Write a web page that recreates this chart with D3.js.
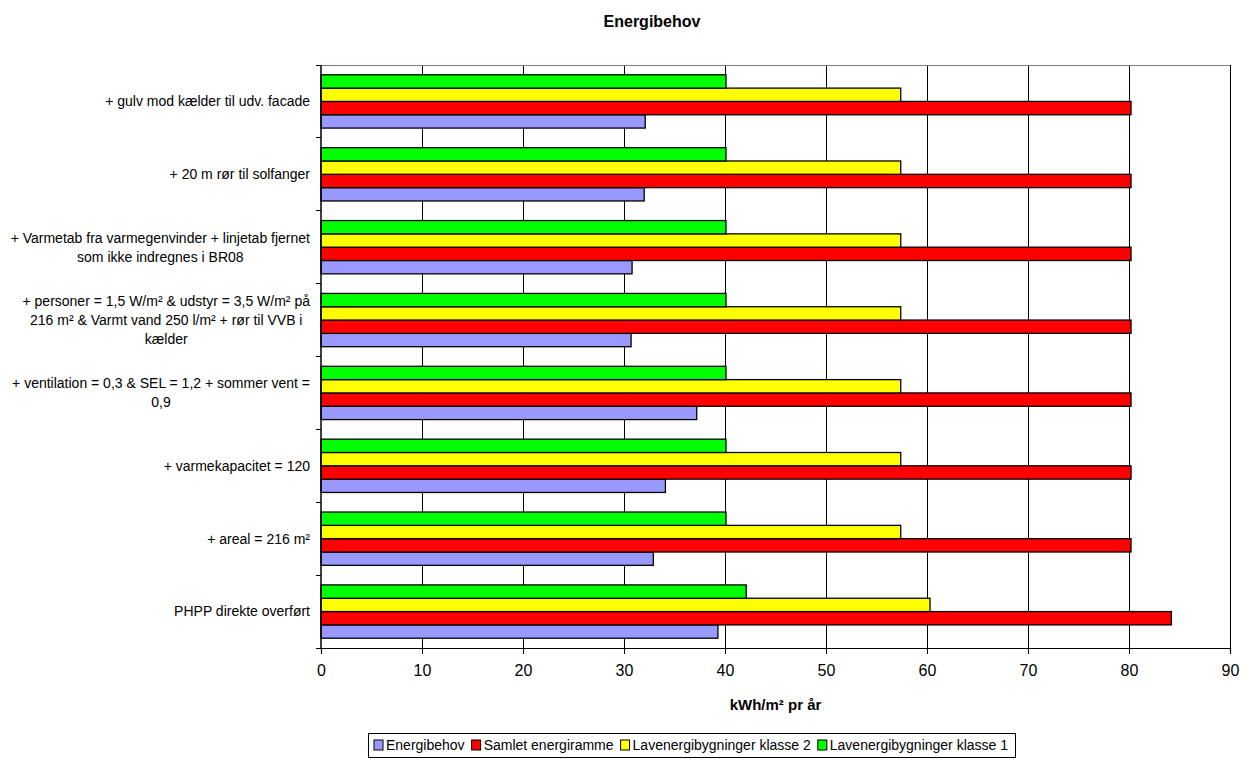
<!DOCTYPE html>
<html>
<head>
<meta charset="utf-8">
<script src="https://cdn.jsdelivr.net/npm/d3@7"></script>
<style>
  html, body { margin: 0; padding: 0; background: #fff; }
  svg { display: block; font-family: "Liberation Sans", Arial, sans-serif; }
</style>
</head>
<body>
<svg id="chart" width="1256" height="760"></svg>
<script>
// Categories, bottom to top (first category sits at the bottom of the axis)
const categories = [
  ["PHPP direkte overført"],
  ["+ areal = 216 m²"],
  ["+ varmekapacitet = 120"],
  ["+ ventilation = 0,3 & SEL = 1,2 + sommer vent =", "0,9"],
  ["+ personer = 1,5 W/m² & udstyr = 3,5 W/m² på", "216 m² & Varmt vand 250 l/m² + rør til VVB i", "kælder"],
  ["+ Varmetab fra varmegenvinder + linjetab fjernet", "som ikke indregnes i BR08"],
  ["+ 20 m rør til solfanger"],
  ["+ gulv mod kælder til udv. facade"]
];

const seriesNames = ["Energibehov", "Samlet energiramme", "Lavenergibygninger klasse 2", "Lavenergibygninger klasse 1"];
const seriesColors = ["#9999FF", "#FF0000", "#FFFF00", "#00FF00"];

const energibehov       = [39.3, 32.9, 34.1, 37.2, 30.7, 30.8, 32.0, 32.1];
const samletEnergiramme = [84.2, 80.2, 80.2, 80.2, 80.2, 80.2, 80.2, 80.2];
const lavenergiKlasse2  = [60.3, 57.4, 57.4, 57.4, 57.4, 57.4, 57.4, 57.4];
const lavenergiKlasse1  = [42.1, 40.1, 40.1, 40.1, 40.1, 40.1, 40.1, 40.1];

const seriesValues = [energibehov, samletEnergiramme, lavenergiKlasse2, lavenergiKlasse1];

const xTicks = [0, 10, 20, 30, 40, 50, 60, 70, 80, 90];

const titleText = "Energibehov";
const xTitleText = "kWh/m² pr år";

// Layout
const plot = { left: 321, right: 1230, top: 65, bottom: 648 };
const svg = d3.select("#chart");

const x = d3.scaleLinear().domain([0, 90]).range([plot.left, plot.right]);
const catIdx = d3.range(categories.length);
// reversed so the first category is at the bottom
const y = d3.scaleBand().domain(catIdx.slice().reverse()).range([plot.top, plot.bottom]).padding(0);
// within a category: series drawn top-to-bottom in reverse order
const ySeries = d3.scaleBand()
  .domain([3, 2, 1, 0])
  .range([0, y.bandwidth()])
  .paddingInner(0)
  .paddingOuter(0.735);

// Gridlines
svg.append("g")
  .selectAll("line")
  .data(xTicks.filter(d => d > 0))
  .join("line")
  .attr("x1", d => x(d)).attr("x2", d => x(d))
  .attr("y1", plot.top).attr("y2", plot.bottom)
  .attr("stroke", "#000").attr("stroke-width", 1)
  .attr("shape-rendering", "crispEdges");

// Plot area top border
svg.append("line")
  .attr("x1", plot.left).attr("x2", plot.right)
  .attr("y1", plot.top).attr("y2", plot.top)
  .attr("stroke", "#808080").attr("stroke-width", 1)
  .attr("shape-rendering", "crispEdges");

// Bars
const rows = [];
catIdx.forEach(ci => {
  seriesValues.forEach((vals, si) => rows.push({ ci, si, v: vals[ci] }));
});
svg.append("g")
  .selectAll("rect")
  .data(rows)
  .join("rect")
  .attr("x", x(0))
  .attr("y", d => y(d.ci) + ySeries(d.si))
  .attr("width", d => x(d.v) - x(0))
  .attr("height", ySeries.bandwidth())
  .attr("fill", d => seriesColors[d.si])
  .attr("stroke", "#000")
  .attr("stroke-width", 1.3);

// X axis
const xAxis = svg.append("g")
  .attr("transform", `translate(0,${plot.bottom})`)
  .call(d3.axisBottom(x).tickValues(xTicks).tickSize(6).tickPadding(11).tickFormat(d3.format("d")));
xAxis.select(".domain").attr("stroke", "#000").attr("stroke-width", 1.2);
xAxis.selectAll(".tick line").attr("stroke", "#000");
xAxis.selectAll("text").attr("font-size", 16).attr("fill", "#000")
  .attr("font-family", "'Liberation Sans', Arial, sans-serif");

// Y axis: ticks at category boundaries
const boundaries = d3.range(categories.length + 1).map(i => plot.top + i * y.bandwidth());
svg.append("line")
  .attr("x1", plot.left).attr("x2", plot.left)
  .attr("y1", plot.top).attr("y2", plot.bottom)
  .attr("stroke", "#000").attr("stroke-width", 1.5);
svg.append("g")
  .selectAll("line")
  .data(boundaries)
  .join("line")
  .attr("x1", plot.left - 5).attr("x2", plot.left)
  .attr("y1", d => d).attr("y2", d => d)
  .attr("stroke", "#000").attr("stroke-width", 1)
  .attr("shape-rendering", "crispEdges");

// Category labels: lines centered on each other, block right-aligned
const labelRight = 310;
const lineH = 19;
catIdx.forEach(ci => {
  const lines = categories[ci];
  const cy = y(ci) + y.bandwidth() / 2;
  const g = svg.append("g");
  const texts = lines.map((ln, li) => g.append("text")
    .attr("y", cy + (li - (lines.length - 1) / 2) * lineH)
    .attr("dy", "0.35em")
    .attr("font-size", 14)
    .attr("fill", "#000")
    .attr("text-anchor", "middle")
    .text(ln));
  const maxW = d3.max(texts, t => t.node().getComputedTextLength());
  texts.forEach(t => t.attr("x", labelRight - maxW / 2));
});

// Titles
svg.append("text")
  .attr("x", 652).attr("y", 21).attr("dy", "0.35em")
  .attr("text-anchor", "middle")
  .attr("font-size", 16).attr("font-weight", "bold")
  .text(titleText);

svg.append("text")
  .attr("x", (plot.left + plot.right) / 2).attr("y", 705).attr("dy", "0.35em")
  .attr("text-anchor", "middle")
  .attr("font-size", 15).attr("font-weight", "bold")
  .text(xTitleText);

// Legend
const legend = svg.append("g");
const legendY = 745;
const itemGap = 5;
let cursor = 374;
seriesNames.forEach((name, i) => {
  const g = legend.append("g");
  g.append("rect")
    .attr("x", cursor).attr("y", legendY - 5)
    .attr("width", 9).attr("height", 10)
    .attr("fill", seriesColors[i]).attr("stroke", "#000").attr("stroke-width", 1);
  const t = g.append("text")
    .attr("x", cursor + 12).attr("y", legendY).attr("dy", "0.35em")
    .attr("font-size", 14).attr("fill", "#000")
    .text(name);
  cursor += 12 + t.node().getComputedTextLength() + itemGap + 2;
});
const legendRight = cursor;
legend.insert("rect", ":first-child")
  .attr("x", 368).attr("y", 733)
  .attr("width", legendRight - 368).attr("height", 24)
  .attr("fill", "#fff").attr("stroke", "#000").attr("stroke-width", 1)
  .attr("shape-rendering", "crispEdges");
</script>
</body>
</html>
